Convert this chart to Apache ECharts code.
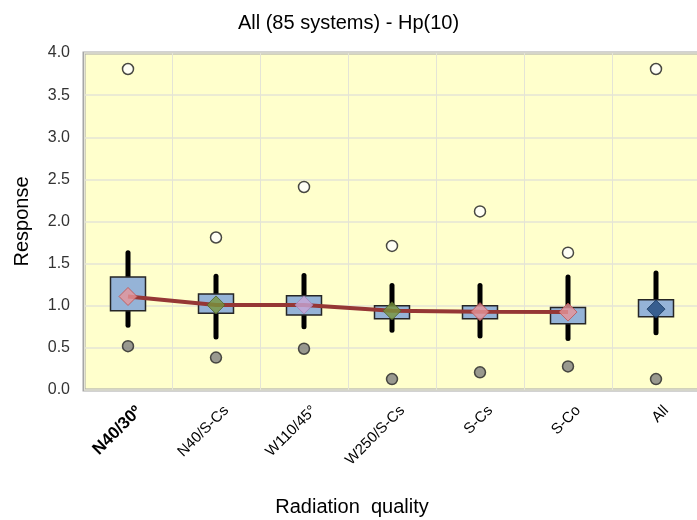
<!DOCTYPE html>
<html>
<head>
<meta charset="utf-8">
<script src="https://cdn.jsdelivr.net/npm/echarts@6/dist/echarts.min.js"></script>
<style>
  html, body { margin: 0; padding: 0; background: #fff; }
  #chart { width: 697px; height: 520px; }
</style>
</head>
<body>
<div id="chart"></div>
<script>
// categories and values
const categories = ['N40/30º', 'N40/S-Cs', 'W110/45°', 'W250/S-Cs', 'S-Cs', 'S-Co', 'All']
const whiskerLow = [0.77, 0.63, 0.75, 0.71, 0.64, 0.61, 0.68]
const boxLow = [0.94, 0.91, 0.89, 0.845, 0.845, 0.785, 0.87]
const boxHigh = [1.34, 1.14, 1.12, 1.00, 1.00, 0.98, 1.07]
const whiskerHigh = [1.63, 1.35, 1.36, 1.24, 1.24, 1.34, 1.39]
const means = [1.11, 1.01, 1.01, 0.94, 0.93, 0.925, 0.96]
const minOutliers = [0.52, 0.385, 0.49, 0.13, 0.21, 0.28, 0.13]
const maxOutliers = [3.81, 1.81, 2.41, 1.71, 2.12, 1.63, 3.81]
const yTicks = [0, 0.5, 1, 1.5, 2, 2.5, 3, 3.5, 4]

// colour of each mean marker
const meanColors = ['#e6959a', '#77933c', '#c6a5d6', '#77933c', '#e6959a', '#e6959a', '#1f497d']
const meanBorders = ['#c0504d', '#4f6228', '#a37fb8', '#4f6228', '#c0504d', '#c0504d', '#17375e']

const boxData = categories.map((c, i) => [i, whiskerLow[i], boxLow[i], boxHigh[i], whiskerHigh[i]])

const font = 'Liberation Sans'
const chart = echarts.init(document.getElementById('chart'))

chart.setOption({
  animation: false,
  title: {
    text: 'All (85 systems) - Hp(10)',
    left: 'center',
    top: 8,
    textStyle: { fontFamily: font, fontSize: 20, fontWeight: 'normal', color: '#000' }
  },
  grid: {
    left: 84, right: -3, top: 53, bottom: 130,
    outerBoundsMode: 'none',
    show: true,
    backgroundColor: '#ffffcc',
    borderColor: '#a6a6a6',
    borderWidth: 3
  },
  xAxis: {
    type: 'category',
    data: categories,
    boundaryGap: true,
    name: 'Radiation  quality',
    nameLocation: 'middle',
    nameGap: 107,
    // grid runs past the right edge, so pull the name back to the page centre
    nameTextStyle: { fontFamily: font, fontSize: 20, color: '#000', padding: [0, 80, 0, 0] },
    axisLine: { show: false },
    axisTick: { show: false },
    splitLine: { show: true, lineStyle: { color: '#e4e4d6', width: 1 } },
    axisLabel: {
      interval: 0,
      rotate: 45,
      margin: 8,
      verticalAlign: 'top',
      padding: [7, 0, 0, 0],
      fontFamily: font,
      fontSize: 15,
      color: '#000',
      formatter: (v, i) => (i === 0 ? '{b|' + v + '}' : v),
      rich: { b: { fontFamily: font, fontSize: 17, fontWeight: 'bold', color: '#000' } }
    }
  },
  yAxis: {
    type: 'value',
    min: yTicks[0],
    max: yTicks[yTicks.length - 1],
    interval: 0.5,
    name: 'Response',
    nameLocation: 'middle',
    nameGap: 52,
    nameTextStyle: { fontFamily: font, fontSize: 20, color: '#000' },
    axisLine: { show: false },
    axisTick: { show: false },
    splitLine: { show: true, lineStyle: { color: '#e4e4d6', width: 1.5 } },
    axisLabel: {
      margin: 14,
      fontFamily: font,
      fontSize: 16,
      color: '#333',
      formatter: v => v.toFixed(1)
    }
  },
  series: [
    {
      type: 'custom',
      z: 2,
      data: boxData,
      renderItem: (params, api) => {
        const x = api.value(0)
        const pWl = api.coord([x, api.value(1)])
        const pBl = api.coord([x, api.value(2)])
        const pBh = api.coord([x, api.value(3)])
        const pWh = api.coord([x, api.value(4)])
        const w = 35
        return {
          type: 'group',
          children: [
            {
              type: 'line',
              shape: { x1: pWl[0], y1: pWl[1], x2: pWh[0], y2: pWh[1] },
              style: { stroke: '#000', lineWidth: 5, lineCap: 'round' }
            },
            {
              type: 'rect',
              shape: { x: pBh[0] - w / 2, y: pBh[1], width: w, height: pBl[1] - pBh[1] },
              style: { fill: '#95b3d7', stroke: '#262626', lineWidth: 1.5 }
            }
          ]
        }
      }
    },
    {
      type: 'line',
      z: 3,
      data: means.slice(0, 6),
      symbol: 'none',
      lineStyle: { color: '#953735', width: 4 }
    },
    {
      type: 'scatter',
      z: 4,
      symbol: 'diamond',
      symbolSize: [18, 18],
      data: means.map((v, i) => ({
        value: v,
        itemStyle: { color: meanColors[i], borderColor: meanBorders[i], borderWidth: 1 }
      }))
    },
    {
      type: 'scatter',
      z: 4,
      symbol: 'circle',
      symbolSize: 11,
      data: maxOutliers,
      itemStyle: { color: '#fff', borderColor: '#1a1a1a', borderWidth: 1.5 }
    },
    {
      type: 'scatter',
      z: 4,
      symbol: 'circle',
      symbolSize: 11,
      data: minOutliers,
      itemStyle: { color: '#7f7f7f', borderColor: '#262626', borderWidth: 1.5 }
    }
  ]
})
</script>
</body>
</html>
